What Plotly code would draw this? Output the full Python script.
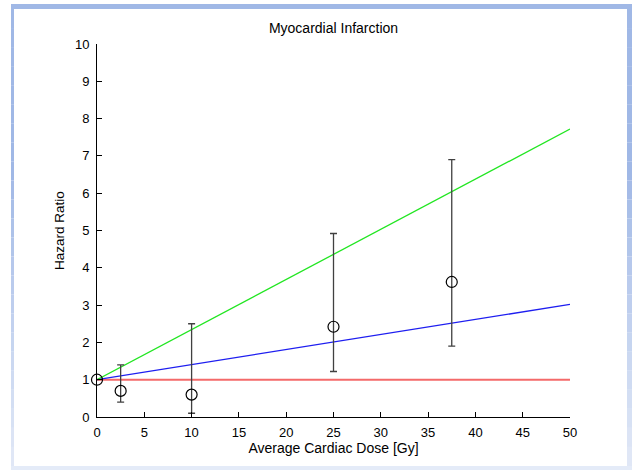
import plotly.graph_objects as go

# ---- data ----
dose = [0, 2.5, 10, 25, 37.5]
hr = [1.0, 0.7, 0.6, 2.42, 3.62]
ci_low = [1.0, 0.4, 0.1, 1.22, 1.9]
ci_high = [1.0, 1.4, 2.5, 4.92, 6.9]

fit_x = [0, 50]
red_y = [1.0, 1.0]
blue_y = [1.0, 3.02]
green_y = [1.0, 7.72]

x_ticks = list(range(0, 55, 5))
y_ticks = list(range(0, 11, 1))

# ---- layout geometry ----
W, H = 632, 470
L, R, T, B = 97, 62, 44, 53
PW, PH = W - L - R, H - T - B


def px(x):
    return (x - L) / PW


def py(y):
    return (H - B - y) / PH


FONT = "Liberation Sans, Arial, sans-serif"

fig = go.Figure()

fig.add_trace(go.Scatter(x=fit_x, y=red_y, mode="lines",
                         line=dict(color="#F46A6A", width=2), showlegend=False))
fig.add_trace(go.Scatter(x=fit_x, y=blue_y, mode="lines",
                         line=dict(color="#1E1EF0", width=1.3), showlegend=False))
fig.add_trace(go.Scatter(x=fit_x, y=green_y, mode="lines",
                         line=dict(color="#22E622", width=1.3), showlegend=False))

err_plus = [h - v for h, v in zip(ci_high, hr)]
err_minus = [v - l for v, l in zip(hr, ci_low)]
fig.add_trace(go.Scatter(
    x=dose, y=hr, mode="markers",
    marker=dict(symbol="circle-open", size=11, color="black", line=dict(width=1.2)),
    error_y=dict(type="data", symmetric=False, array=err_plus, arrayminus=err_minus,
                 color="#404040", thickness=1.3, width=3.5),
    cliponaxis=False, showlegend=False))

# ---- frame (light blue border) ----
shapes = []
blue = (160, 184, 230)
light = (226, 233, 247)
shapes.append(dict(type="rect", xref="paper", yref="paper", x0=px(11), x1=px(632),
                   y0=py(9), y1=py(4), fillcolor="rgb(160,184,230)", line=dict(width=0), layer="below"))
shapes.append(dict(type="rect", xref="paper", yref="paper", x0=px(11), x1=px(632),
                   y0=py(470), y1=py(466), fillcolor="rgb(228,235,248)", line=dict(width=0), layer="below"))
n = 24
for i in range(n):
    y0p = 9 + (466 - 9) * i / n
    y1p = 9 + (466 - 9) * (i + 1) / n
    t = (i + 0.5) / n
    t2 = max(0.0, (t - 0.35) / 0.65)
    c = tuple(int(round(blue[k] + (light[k] - blue[k]) * t2)) for k in range(3))
    col = "rgb(%d,%d,%d)" % c
    shapes.append(dict(type="rect", xref="paper", yref="paper", x0=px(11), x1=px(14),
                       y0=py(y1p), y1=py(y0p), fillcolor=col, line=dict(width=0), layer="below"))
    shapes.append(dict(type="rect", xref="paper", yref="paper", x0=px(627), x1=px(632),
                       y0=py(y1p), y1=py(y0p), fillcolor=col, line=dict(width=0), layer="below"))

fig.update_layout(
    width=W, height=H,
    margin=dict(l=L, r=R, t=T, b=B),
    paper_bgcolor="white", plot_bgcolor="white",
    font=dict(family=FONT, size=13, color="black"),
    title=dict(text="Myocardial Infarction", x=0.5, xref="paper", xanchor="center",
               y=1 - 28 / H, yref="container", yanchor="middle",
               font=dict(family=FONT, size=14, color="black")),
    shapes=shapes,
    showlegend=False,
)
fig.update_xaxes(range=[0, 50], tickvals=x_ticks, ticktext=[str(v) for v in x_ticks],
                 showline=True, linecolor="black", linewidth=1,
                 ticks="inside", ticklen=5, tickcolor="black",
                 showgrid=False, zeroline=False, mirror=False,
                 ticklabelstandoff=3, tickfont=dict(family=FONT, size=13),
                 title=dict(text="Average Cardiac Dose [Gy]", standoff=4,
                            font=dict(family=FONT, size=14)))
fig.update_yaxes(range=[0, 10], tickvals=y_ticks, ticktext=[str(v) for v in y_ticks],
                 showline=True, linecolor="black", linewidth=1,
                 ticks="inside", ticklen=5, tickcolor="black",
                 showgrid=False, zeroline=False, mirror=False,
                 ticklabelstandoff=4, tickfont=dict(family=FONT, size=13),
                 title=dict(text="Hazard Ratio", standoff=7,
                            font=dict(family=FONT, size=13.5)))

fig.write_html("out.html")
